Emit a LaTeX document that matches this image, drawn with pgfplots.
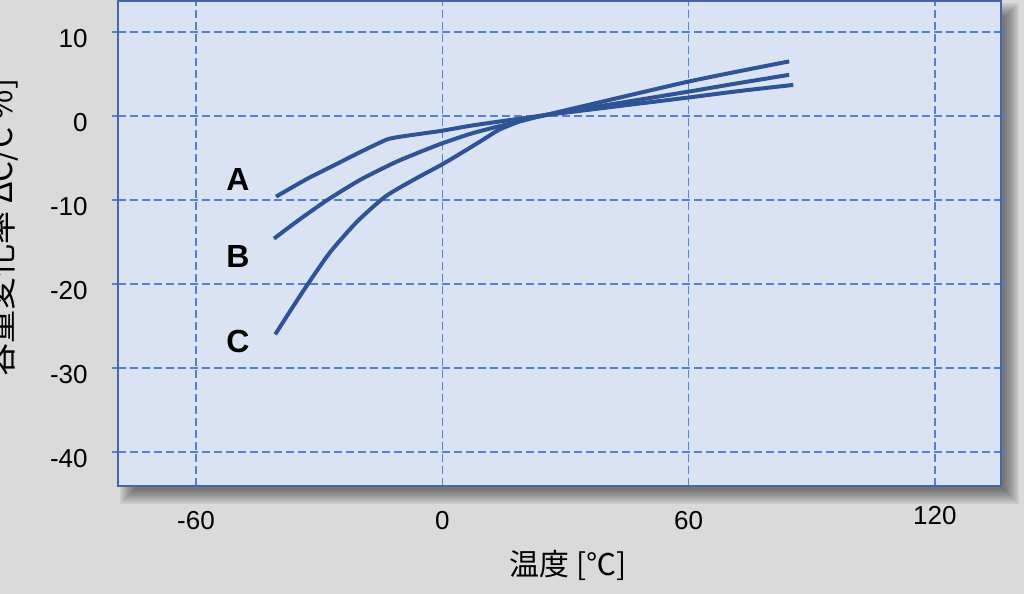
\documentclass[border=0pt]{standalone}
\usepackage{fontspec}
\setmainfont{Liberation Sans}
\newfontfamily\cjk{Noto Sans CJK JP}
\usepackage{pgfplots}
\pgfplotsset{compat=1.18}
\definecolor{pagebg}{RGB}{218,218,218}
\definecolor{plotbg}{RGB}{218,227,243}
\definecolor{border}{RGB}{68,102,165}
\definecolor{gridc}{RGB}{84,130,208}
\definecolor{curve}{RGB}{46,84,150}
\begin{document}
\begin{tikzpicture}
\fill[pagebg] (-59pt,-54pt) rectangle (453pt,243pt);
\foreach \e in {4,3,2,1,0,-1,-2,-3}{
  \fill[black,opacity=0.07] ({(5-\e)*1pt},{(-5-\e)*1pt}) rectangle ({(446.5+\e)*1pt},{(237.5+\e)*1pt});
}
\begin{axis}[
  at={(0,0)}, anchor=south west,
  width=441.5pt, height=242.5pt, scale only axis,
  xmin=-79, xmax=136.1, ymin=-44.05, ymax=13.69,
  axis background/.style={fill=plotbg},
  axis line style={draw=border, line width=0.9pt},
  xtick={-60,0,60,120}, xticklabels={-60,0,60,\raisebox{2.5pt}[\height][\depth]{120}},
  ytick={-40,-30,-20,-10,0,10}, yticklabels={-40,-30,-20,-10,0,10},
  grid=major,
  grid style={draw=gridc, line width=0.7pt, dash pattern=on 4pt off 2pt},
  xtick style={draw=none},
  ytick pos=both, tick align=outside, major tick length=3pt,
  ytick style={draw=gridc, line width=0.7pt},
  xticklabel style={font=\fontsize{13}{13}\selectfont, inner sep=0pt, anchor=north, yshift=-9.3pt},
  yticklabel style={font=\fontsize{13}{13}\selectfont, inner sep=0pt, anchor=east, xshift=-12pt, yshift=-3.5pt},
  xlabel={\cjk 温度 [℃]},
  xlabel style={at={(axis description cs:0.5096,-0.1629)}, anchor=center, inner sep=0pt, font=\fontsize{15}{15}\selectfont},
  ylabel={\cjk 容量変化率 ΔC/C \%]},
  ylabel style={at={(axis description cs:-0.1314,0.533)}, anchor=center, inner sep=0pt, font=\fontsize{16.5}{16.5}\selectfont},
]
\addplot[curve, line width=2pt, smooth, tension=0.35] coordinates {
(-40.5,-9.6) (-33,-7.5) (-26.5,-5.9) (-20,-4.3) (-13.5,-2.8) (-10,-2.45) (-5,-2.1) (0,-1.75) (7,-1.15) (14,-0.65) (20,-0.25) (25,0.1) (35,0.7) (45,1.3) (60,2.2) (72,2.95) (85.5,3.7)
};
\addplot[curve, line width=2pt, smooth, tension=0.4] coordinates {
(-41,-14.6) (-35,-12.4) (-28,-10.0) (-20,-7.6) (-12.7,-5.8) (-10,-5.2) (-5,-4.2) (0,-3.25) (7,-2.1) (14,-1.2) (20,-0.5) (25,0.1) (35,0.9) (45,1.7) (60,2.9) (72,3.9) (84.5,4.9)
};
\addplot[curve, line width=2pt, smooth, tension=0.4] coordinates {
(-40.7,-26.0) (-36.5,-22.8) (-32.6,-19.9) (-27.3,-16.2) (-20.8,-12.6) (-13.9,-9.6) (-7,-7.6) (0,-5.75) (5,-4.3) (10,-2.8) (14,-1.6) (20,-0.45) (25,0.1) (35,1.25) (45,2.4) (60,4.1) (72,5.3) (84.5,6.5)
};
\node[font=\fontsize{16}{16}\selectfont\bfseries] at (axis cs:-49.8,-7.6) {A};
\node[font=\fontsize{16}{16}\selectfont\bfseries] at (axis cs:-49.8,-16.75) {B};
\node[font=\fontsize{16}{16}\selectfont\bfseries] at (axis cs:-49.8,-26.9) {C};
\end{axis}
\pgfresetboundingbox
\path[use as bounding box] (-59pt,-54pt) rectangle (453pt,243pt);
\end{tikzpicture}
\end{document}
